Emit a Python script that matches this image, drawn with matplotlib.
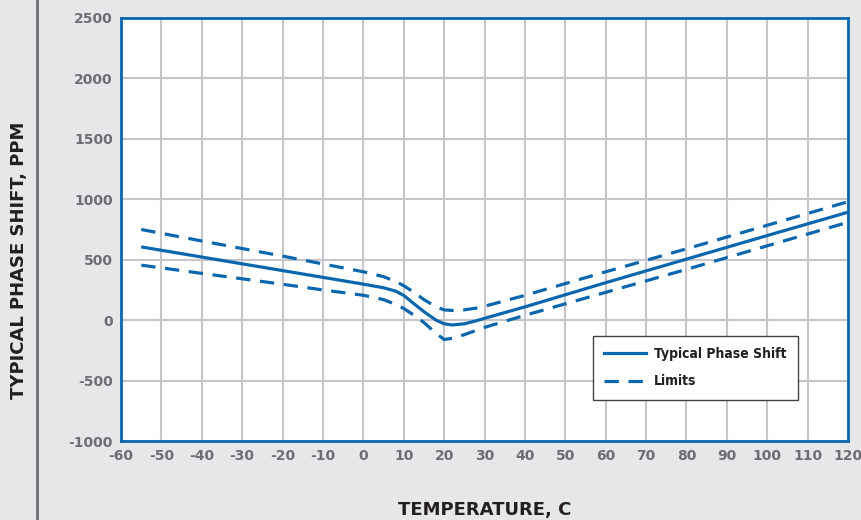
import matplotlib.pyplot as plt
from matplotlib.lines import Line2D

plt.rcParams['axes.unicode_minus'] = False

# ---------------------------
# data
# ---------------------------
typ_temp = [-55, -40, -20, 0, 5, 8, 10, 12, 15, 18, 20, 22, 25, 28, 30, 40, 60, 80, 100, 120]
typ_ppm = [606, 522, 410, 298, 268, 240, 205, 150, 70, 0, -30, -40, -30, -5, 15, 110, 310, 505, 700, 893]

up_temp = [-55, -40, -20, -10, 0, 5, 8, 10, 13, 15, 18, 20, 22, 25, 28, 30, 40, 60, 80, 100, 120]
up_ppm = [750, 655, 530, 465, 400, 360, 320, 285, 220, 170, 110, 85, 80, 85, 100, 115, 205, 400, 590, 785, 980]

lo_temp = [-55, -40, -20, -10, 0, 5, 8, 10, 13, 15, 18, 20, 22, 25, 30, 40, 60, 80, 100, 120]
lo_ppm = [455, 387, 297, 250, 206, 170, 130, 97, 30, -20, -110, -160, -150, -120, -60, 40, 230, 420, 615, 810]

x_ticks = list(range(-60, 121, 10))
y_ticks = list(range(-1000, 2501, 500))

blue = '#0b67ad'
grey_txt = '#6d6e71'
bg = '#e6e7e8'

fig = plt.figure(figsize=(8.62, 5.2), dpi=100, facecolor=bg)
ax = fig.add_axes([0.1404, 0.1519, 0.8434, 0.8135])
ax.set_facecolor('white')

ax.plot(typ_temp, typ_ppm, color=blue, lw=2.3, solid_capstyle='butt')
ax.plot(up_temp, up_ppm, color=blue, lw=2.3, dashes=(4.5, 3))
ax.plot(lo_temp, lo_ppm, color=blue, lw=2.3, dashes=(4.5, 3))

ax.set_xlim(-60, 120)
ax.set_ylim(-1000, 2500)
ax.set_xticks(x_ticks)
ax.set_yticks(y_ticks)
ax.grid(True, color='#c6c6ca', lw=1.5)
ax.set_axisbelow(True)
ax.tick_params(length=0, pad=6, labelsize=10, labelcolor=grey_txt)
for lab in ax.get_xticklabels() + ax.get_yticklabels():
    lab.set_fontweight('bold')
for s in ax.spines.values():
    s.set_color(blue)
    s.set_linewidth(2)

ax.set_xlabel('TEMPERATURE, C', fontsize=13, fontweight='bold', color='#231f20', labelpad=27)
fig.text(0.022, 0.5, 'TYPICAL PHASE SHIFT, PPM', rotation=90, fontsize=13,
         fontweight='bold', color='#231f20', ha='center', va='center')

# left divider line
fig.add_artist(Line2D([0.043, 0.043], [0, 1], color=grey_txt, lw=2))

handles = [Line2D([], [], color=blue, lw=2.3),
           Line2D([], [], color=blue, lw=2.3, dashes=(4.5, 3))]
leg = ax.legend(handles, ['Typical Phase Shift', 'Limits'], loc='upper left',
                bbox_to_anchor=(0.649, 0.248), borderaxespad=0, fancybox=False,
                framealpha=1, edgecolor='#444444', handlelength=3,
                prop={'size': 10, 'weight': 'bold', 'stretch': 'condensed'},
                borderpad=0.8, labelspacing=0.95, handletextpad=0.6)
leg.get_frame().set_linewidth(1)
for t in leg.get_texts():
    t.set_color('#231f20')

plt.savefig('out.png', dpi=100, facecolor=bg)
